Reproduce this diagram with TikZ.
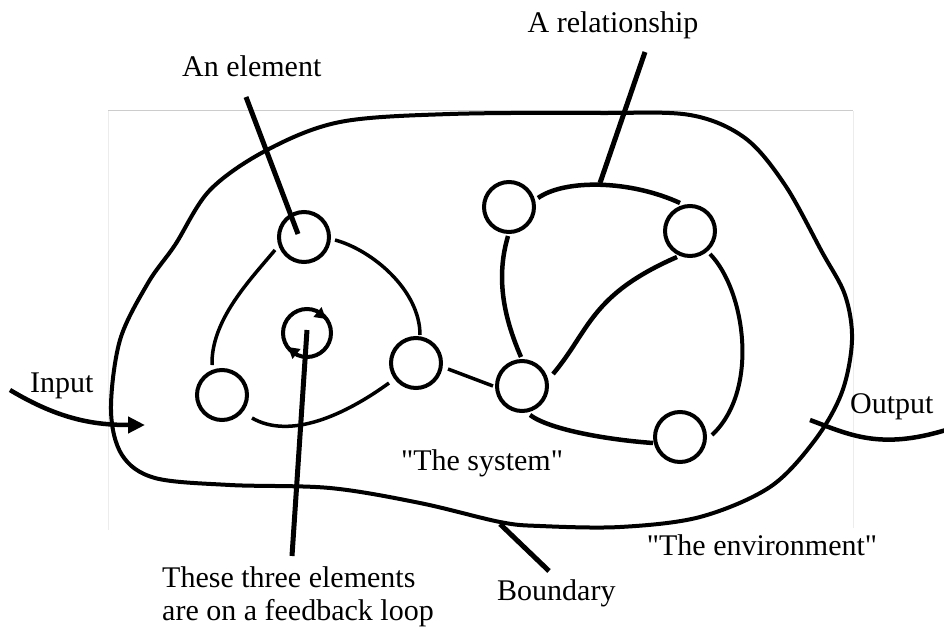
\documentclass[tikz,border=0pt]{standalone}
\usepackage{fontspec}
\usetikzlibrary{arrows.meta,calc}
% a serif family without TeX ligatures, so that " stays a straight quote
\newfontfamily\labelfont{Liberation Serif}
\begin{document}
\begin{tikzpicture}[x=1pt,y=-1pt,
  elem/.style={circle,draw,line width=4pt,minimum size=50pt,inner sep=0pt},
  link/.style={line width=3.5pt},
  pointer/.style={line width=5pt},
  lbl/.style={font=\labelfont\fontsize{30}{35}\selectfont,inner sep=0pt},
  boundary/.style={line width=4pt},
  fbtip/.style={line width=3pt,-{Triangle[length=11pt,width=12pt]}},
  flowline/.style={line width=4.5pt}
]
\useasboundingbox (0,0) rectangle (944,631);

% light frame behind the system
\draw[gray!40,line width=1pt] (108,111) -- (853,111);
\draw[gray!15,line width=1pt] (108,111) -- (108,530);
\draw[gray!15,line width=1pt] (853,111) -- (853,528);

% the system boundary
\draw[boundary] plot[smooth cycle, tension=0.55] coordinates {
  (210,190) (267,150) (340,122) (450,114) (600,113) (690,115) (745,138)
  (785,185) (822,252) (845,295) (852,340) (842,392) (815,440) (770,487)
  (700,517) (620,527) (540,526) (500,522) (420,503) (330,488) (230,485)
  (155,478) (122,455) (111,410) (120,340) (148,283) (175,245)};

% elements
\node[elem] (e1) at (304,237) {};
\node[elem,minimum size=48pt] (fb) at (307,333) {};
\node[elem] (e2) at (222,395) {};
\node[elem] (e3) at (416,363) {};
\node[elem] (r1) at (509,207) {};
\node[elem] (r2) at (690,231) {};
\node[elem] (r3) at (522,386) {};
\node[elem] (r4) at (680,437) {};

% relationships, left group
\draw[link] ([shift={(31,3)}]e1.center) .. controls +(37,10) and +(0,-45) .. ([shift={(4,-28)}]e3.center);
\draw[link] ([shift={(-29,13)}]e1.center) .. controls +(-25,30) and +(-1,-45) .. ([shift={(-10,-30)}]e2.center);
\draw[link] ([shift={(30,23)}]e2.center) .. controls +(38,22) and +(-44,32) .. ([shift={(-27,20)}]e3.center);
\draw[link] ([shift={(32,6)}]e3.center) -- ([shift={(-29,0)}]r3.center);

% relationships, right group
\draw[link,line width=4.5pt] ([shift={(29,-9)}]r1.center) .. controls +(27,-19) and +(-50,-23) .. ([shift={(-10,-28)}]r2.center);
\draw[link,line width=4.5pt] ([shift={(-1,29)}]r1.center) .. controls +(-13,44) and +(-16,-37) .. ([shift={(-1,-29)}]r3.center);
\draw[link,line width=4.5pt] ([shift={(31,-12)}]r3.center) .. controls +(37,-44) and +(-87,38) .. ([shift={(-13,26)}]r2.center);
\draw[link,line width=4.5pt] ([shift={(8,29)}]r3.center) .. controls +(20,15) and +(-43,-3) .. ([shift={(-27,6)}]r4.center);
\draw[link,line width=4pt] ([shift={(20,23)}]r2.center) .. controls +(35,36) and +(48,-45) .. ([shift={(32,-2)}]r4.center);

% feedback arrows round the middle circle
\draw[fbtip] ([shift={(8,-23)}]fb.center) -- ([shift={(19,-14)}]fb.center);
\draw[fbtip] ([shift={(-8,23)}]fb.center) -- ([shift={(-19,14)}]fb.center);

% labels
\node[lbl,anchor=base] (trel) at (613,33) {A relationship};
\node[lbl,anchor=base west] (telem) at (182,77) {An element};
\node[lbl,anchor=base west] (tin) at (30,392) {Input};
\node[lbl,anchor=base west] (tout) at (850,413) {Output};
\node[lbl,anchor=base] (tsys) at (482,470) {"The system"};
\node[lbl,anchor=base] (tenv) at (762,555) {"The environment"};
\node[lbl,anchor=base west] (tbnd) at (497,600) {Boundary};
\node[lbl,anchor=base west] (tfb1) at (162,587) {These three elements};
\node[lbl,anchor=base west] (tfb2) at (162,620) {are on a feedback loop};

% pointers from labels
\coordinate (pelem) at (246,97);
\coordinate (prel) at (645,52);
\coordinate (pfb) at (292,556);
\coordinate (pbnd) at (549,571);
\draw[pointer] (pelem) -- ([shift={(-6,-3)}]e1.center);
\draw[pointer] (prel) -- (600,183);
\draw[pointer] ([shift={(0,-3)}]fb.center) -- (pfb);
\draw[pointer] (500,524) -- (pbnd);

% input and output flows
\coordinate (inA) at (10,390);
\coordinate (inB) at (145,425);
\coordinate (outA) at (810,420);
\coordinate (outB) at (946,430);
\draw[flowline,-{Triangle[length=17pt,width=16pt]}] (inA) .. controls (60,420) and (95,425) .. (inB);
\draw[flowline] (outA) .. controls (850,435) and (880,450) .. (outB);
\end{tikzpicture}
\end{document}
